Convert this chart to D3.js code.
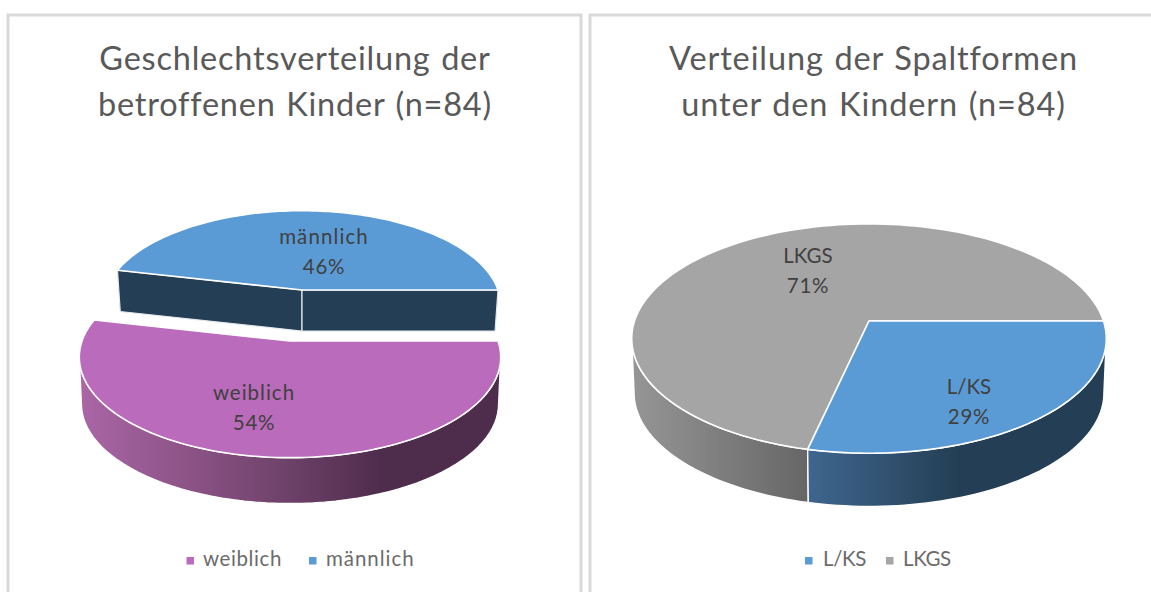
<!DOCTYPE html>
<html><head><meta charset="utf-8">
<script src="https://cdn.jsdelivr.net/npm/d3@7/dist/d3.min.js"></script>
<style>html,body{margin:0;padding:0;background:#fff;overflow:hidden}svg{display:block}text{font-family:Lato,"Open Sans",sans-serif}</style>
</head><body><div id="c"></div>
<script>
// ---- data (counts out of n=84, percentages in labels are derived from them)
const genderCategories = ["weiblich", "männlich"];
const genderCounts = [45, 39];
const cleftCategories = ["L/KS", "LKGS"];
const cleftCounts = [24, 60];
const genderTitle = ["Geschlechtsverteilung der", "betroffenen Kinder (n=84)"];
const cleftTitle = ["Verteilung der Spaltformen", "unter den Kindern (n=84)"];

const W = 1151, H = 592;
const svg = d3.select("#c").append("svg").attr("width", W).attr("height", H);
const defs = svg.append("defs");

// frames
[[8,15,573],[590,15,600]].forEach(([x,y,w])=>{
  svg.append("path").attr("d",`M${x},${H+5}V${y}H${x+w}V${H+5}`).attr("fill","none").attr("stroke","#d9d9d9").attr("stroke-width",3);
});

const colors = {weiblich:"#bb6bbb","männlich":"#5b9bd5","L/KS":"#5b9bd5",LKGS:"#a5a5a5"};
const wallStops = {
  weiblich:[[0,"#ab66a6"],[.45,"#74456f"],[.72,"#4e2c4c"],[1,"#4e2c4c"]],
  "L/KS":[[0,"#3f668f"],[.5,"#243f55"],[1,"#243f55"]],
  LKGS:[[0,"#969696"],[1,"#666666"]],
  "männlich":[[0,"#243f55"],[1,"#243f55"]]
};
const labelSpacing = {weiblich:1,"männlich":1.1,"L/KS":0,LKGS:0};
const legendSpacing = {weiblich:.6,"männlich":.95,"L/KS":-.35,LKGS:-.4};

// perspective projection of the unit disc onto the screen
function projector(g){
  return (t, scale=1, dy=0) => {
    const X = Math.sin(t), Y = -Math.cos(t), d = 1 - g.b*Y;
    return [g.cx + g.R*scale*X/d, g.cy + dy + g.a*scale*Y/d];
  };
}
const lineGen = d3.line();
const TAU = Math.PI*2;

function drawSlice(root, id, cat, arc, g, cuts){
  const p = projector(g);
  const s = arc.startAngle, e = arc.endAngle;
  const sc = g.bottomScale, dep = g.depth;
  const silR = Math.acos(-g.b), silL = TAU - silR;
  // curved outer wall: the part of the rim that faces the viewer
  const a0 = Math.max(s, silR), a1 = Math.min(e, silL);
  if(a1 > a0){
    const ts = d3.range(0,61).map(i=>a0+(a1-a0)*i/60);
    const pts = ts.map(t=>p(t)).concat(ts.slice().reverse().map(t=>p(t,sc,dep)));
    const xs = pts.map(q=>q[0]);
    const gid = "w"+id;
    const lg = defs.append("linearGradient").attr("id",gid).attr("gradientUnits","userSpaceOnUse")
      .attr("x1",d3.min(xs)).attr("x2",d3.max(xs)).attr("y1",0).attr("y2",0);
    wallStops[cat].forEach(([o,c])=>lg.append("stop").attr("offset",o).attr("stop-color",c));
    root.append("path").attr("d",lineGen(pts)+"Z").attr("fill",`url(#${gid})`).attr("stroke","#fff").attr("stroke-width",1.4);
  }
  // flat cut faces of an exploded back slice
  if(cuts){
    [s,e].forEach(t=>{
      const c = [g.cx,g.cy], c2=[g.cx,g.cy+dep];
      root.append("path").attr("d",lineGen([p(t),c,c2,p(t,sc,dep)])+"Z")
        .attr("fill",wallStops[cat][0][1]).attr("stroke","#e4e8ec").attr("stroke-width",1.2);
    });
  }
  // top face
  const top = d3.range(0,121).map(i=>p(s+(e-s)*i/120));
  root.append("path").attr("d",lineGen([[g.cx,g.cy],...top])+"Z")
    .attr("fill",colors[cat]).attr("stroke","#fff").attr("stroke-width",1.6).attr("stroke-linejoin","round");
}

function label(root,x,y,cat,pct){
  root.append("text").attr("x",x).attr("y",y).attr("text-anchor","middle")
    .attr("font-size",20.5).attr("letter-spacing",labelSpacing[cat]).attr("fill","#404040").text(cat);
  root.append("text").attr("x",x).attr("y",y+30).attr("text-anchor","middle")
    .attr("font-size",20.5).attr("letter-spacing",.7).attr("fill","#404040").text(pct);
}

function drawChart(cfg){
  const root = svg.append("g");
  cfg.title.forEach((t,i)=>root.append("text").attr("x",cfg.titleX).attr("y",70+i*46)
    .attr("text-anchor","middle").attr("font-size",32.5).attr("letter-spacing",cfg.titleLs).attr("word-spacing",1.5).attr("fill","#595959").text(t));
  const arcs = d3.pie().sort(null).startAngle(Math.PI/2).endAngle(Math.PI/2+TAU)(cfg.values);
  const total = d3.sum(cfg.values);
  cfg.order.forEach(i=>{
    drawSlice(root,cfg.id+i,cfg.cats[i],arcs[i],cfg.geo[i],cfg.cuts[i]);
  });
  cfg.cats.forEach((c,i)=>{
    label(root,cfg.labels[i][0],cfg.labels[i][1],c,d3.format(".0%")(cfg.values[i]/total));
    const [sx,tx] = cfg.legend[i];
    root.append("rect").attr("x",sx).attr("y",557).attr("width",7.5).attr("height",7.5).attr("fill",colors[c]);
    root.append("text").attr("x",tx).attr("y",566).attr("font-size",20.5).attr("letter-spacing",legendSpacing[c]).attr("fill","#6b6b6b").text(c);
  });
}

const bL = .16, bR = .153;
drawChart({id:"a",title:genderTitle,titleX:295,titleLs:.78,cats:genderCategories,values:genderCounts,order:[1,0],
  geo:[{cx:290,cy:341,R:208,a:98,b:bL,depth:47,bottomScale:.99},{cx:302,cy:290,R:196,a:92,b:bL,depth:41,bottomScale:.985}],
  cuts:[false,true],labels:[[254,400],[324,244]],legend:[[186.5,203],[309,326]]});
drawChart({id:"b",title:cleftTitle,titleX:873.5,titleLs:.88,cats:cleftCategories,values:cleftCounts,order:[1,0],
  geo:[{cx:869,cy:321,R:234.5,a:112,b:bR,depth:54.5,bottomScale:.99},{cx:869,cy:321,R:234.5,a:112,b:bR,depth:54.5,bottomScale:.99}],
  cuts:[false,false],labels:[[969,394],[808,263]],legend:[[805,823],[886,903]]});
</script></body></html>
